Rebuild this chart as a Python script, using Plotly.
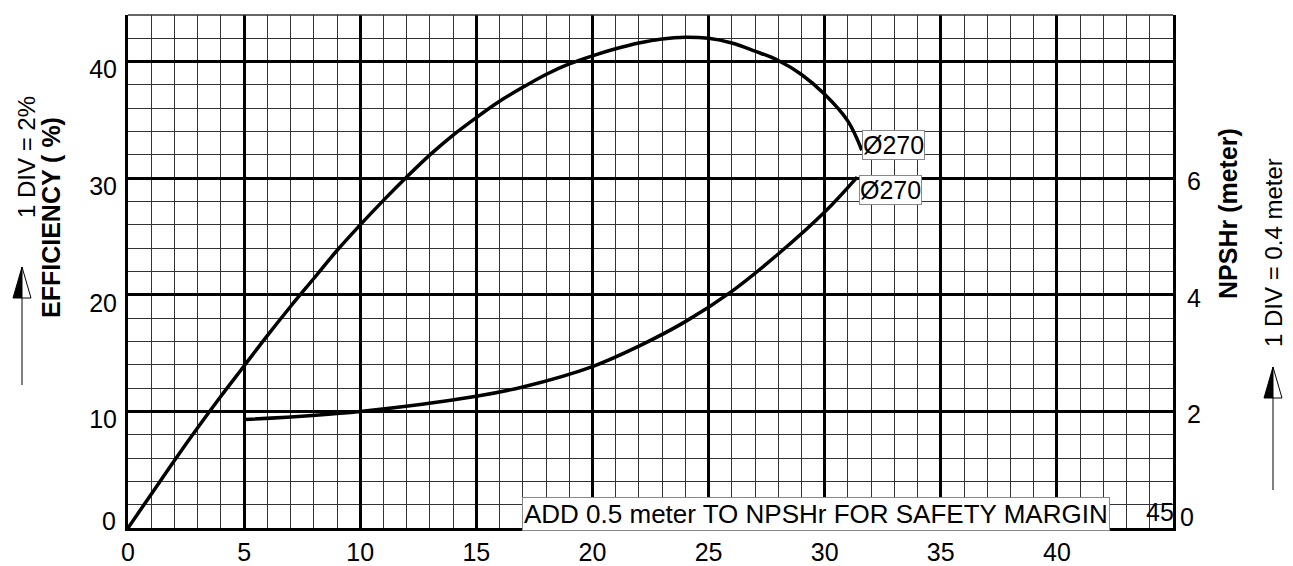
import plotly.graph_objects as go

# flow (x) vs efficiency (%) for the 270 impeller
eff_flow = [0, 1, 2, 3, 4, 5, 6, 7, 8, 9, 10, 11, 12, 13, 14, 15, 16, 17, 18, 19, 20,
            21, 22, 23, 24, 25, 26, 27, 28, 29, 30, 31, 31.6]
eff_pct = [0, 2.9, 5.8, 8.6, 11.3, 13.9, 16.5, 19.0, 21.4, 23.8, 26.0, 28.1, 30.1, 32.0,
           33.7, 35.2, 36.6, 37.8, 38.9, 39.8, 40.5, 41.1, 41.6, 41.95, 42.1, 42.0, 41.6,
           40.9, 40.1, 38.9, 37.2, 34.9, 32.4]

# flow vs NPSHr (meter)
npsh_flow = [5, 10, 15, 17, 20, 22, 24, 26, 28, 30, 31.4]
npsh_m = [1.86, 2.0, 2.26, 2.42, 2.77, 3.12, 3.54, 4.06, 4.70, 5.42, 6.02]

x_ticks = [0, 5, 10, 15, 20, 25, 30, 35, 40]
y_ticks = [10, 20, 30, 40]
y2_ticks = [2, 4, 6]

FONT = "Liberation Sans, Arial, sans-serif"
W, H = 1293, 566
L, R, T, B = 128, 120, 15, 38
PW, PH = W - L - R, H - T - B


def px(x):
    return (x - L) / PW


def py(y):
    return (H - B - y) / PH


fig = go.Figure()

fig.add_trace(go.Scatter(
    x=eff_flow, y=eff_pct, mode="lines",
    line=dict(color="black", width=3.5, shape="spline", smoothing=1.0),
    showlegend=False, hoverinfo="skip"
))

fig.add_trace(go.Scatter(
    x=npsh_flow, y=npsh_m, mode="lines", yaxis="y2",
    line=dict(color="black", width=3.5, shape="spline", smoothing=1.0),
    showlegend=False, hoverinfo="skip"
))

tickfont = dict(family=FONT, size=25, color="black")

fig.update_layout(
    width=W, height=H,
    margin=dict(l=L, r=R, t=T, b=B, autoexpand=False),
    paper_bgcolor="white", plot_bgcolor="white",
    xaxis=dict(
        range=[0, 45], tickvals=x_ticks, tickfont=tickfont, automargin=False,
        showgrid=True, gridcolor="black", gridwidth=3,
        minor=dict(dtick=1, showgrid=True, gridcolor="#333", gridwidth=1),
        showline=True, linecolor="black", linewidth=3,
        zeroline=False, ticks="", ticklabelstandoff=0,
    ),
    yaxis=dict(
        range=[0, 44], tickvals=y_ticks, tickfont=tickfont, automargin=False,
        showgrid=True, gridcolor="black", gridwidth=3,
        minor=dict(dtick=2, showgrid=True, gridcolor="#333", gridwidth=1),
        showline=True, linecolor="black", linewidth=3,
        zeroline=False, ticks="", ticklabelstandoff=3, ticklabelshift=8,
    ),
    yaxis2=dict(
        range=[0, 8.8], tickvals=y2_ticks, tickfont=tickfont, automargin=False,
        overlaying="y", side="right", showgrid=False,
        showline=True, linecolor="black", linewidth=3,
        zeroline=False, ticks="", ticklabelstandoff=6, ticklabelshift=3,
    ),
)

# top border
fig.add_shape(type="line", xref="paper", yref="paper", x0=0, x1=1, y0=1, y1=1,
              line=dict(color="#333", width=1.5))

centred = dict(xref="paper", yref="paper", xanchor="center", yanchor="middle",
               showarrow=False)

# tick labels that sit off their usual place
fig.add_annotation(text="0", x=px(109), y=py(521), font=tickfont, **centred)
fig.add_annotation(text="45", x=px(1160), y=py(512), font=tickfont, **centred)
fig.add_annotation(text="0", x=px(1187), y=py(517), font=tickfont, **centred)

# curve labels
box = dict(showarrow=False, font=dict(family=FONT, size=25, color="black"),
           bgcolor="white", bordercolor="#888", borderwidth=1, borderpad=0)
fig.add_annotation(text="Ø270", x=eff_flow[-1], y=eff_pct[-1], xanchor="left",
                   yanchor="middle", yshift=5, **box)
fig.add_annotation(text="Ø270", x=npsh_flow[-1], y=npsh_m[-1], yref="y2",
                   xanchor="left", yanchor="top", xshift=2, yshift=2, **box)
fig.add_annotation(text="ADD 0.5 meter TO NPSHr FOR SAFETY MARGIN",
                   x=px(816), y=py(514), font=dict(family=FONT, size=26, color="black"),
                   bgcolor="white", bordercolor="#888", borderwidth=1, borderpad=1,
                   **centred)

# axis titles
title_font = dict(family=FONT, size=25, color="black")
note_font = dict(family=FONT, size=24, color="black")
fig.add_annotation(text="<b>EFFICIENCY ( %)</b>", x=px(51), y=py(218), textangle=-90,
                   font=title_font, **centred)
fig.add_annotation(text="1 DIV = 2%", x=px(26), y=py(157), textangle=-90,
                   font=note_font, **centred)
fig.add_annotation(text="<b>NPSHr (meter)</b>", x=px(1228), y=py(214), textangle=-90,
                   font=title_font, **centred)
fig.add_annotation(text="1 DIV = 0.4 meter", x=px(1273), y=py(253), textangle=-90,
                   font=note_font, **centred)


# half-filled up arrows beside the titles
def up_arrow(cx, tip, base, bottom, half=9):
    fig.add_shape(type="line", xref="paper", yref="paper",
                  x0=px(cx), x1=px(cx), y0=py(base), y1=py(bottom),
                  line=dict(color="black", width=1))
    fig.add_shape(type="path", xref="paper", yref="paper",
                  path=f"M {px(cx)} {py(tip)} L {px(cx - half)} {py(base)} L {px(cx)} {py(base)} Z",
                  fillcolor="black", line=dict(color="black", width=1))
    fig.add_shape(type="path", xref="paper", yref="paper",
                  path=f"M {px(cx)} {py(tip)} L {px(cx + half)} {py(base)} L {px(cx)} {py(base)} Z",
                  fillcolor="white", line=dict(color="black", width=1))


up_arrow(22, 267, 298, 385)
up_arrow(1273, 367, 398, 490)

# drop the browser's default body margin so the figure fills the window exactly
fig.write_html("out.html", config={"displayModeBar": False},
               post_script="document.body.style.margin='0';"
                           "document.body.style.overflow='hidden';")
